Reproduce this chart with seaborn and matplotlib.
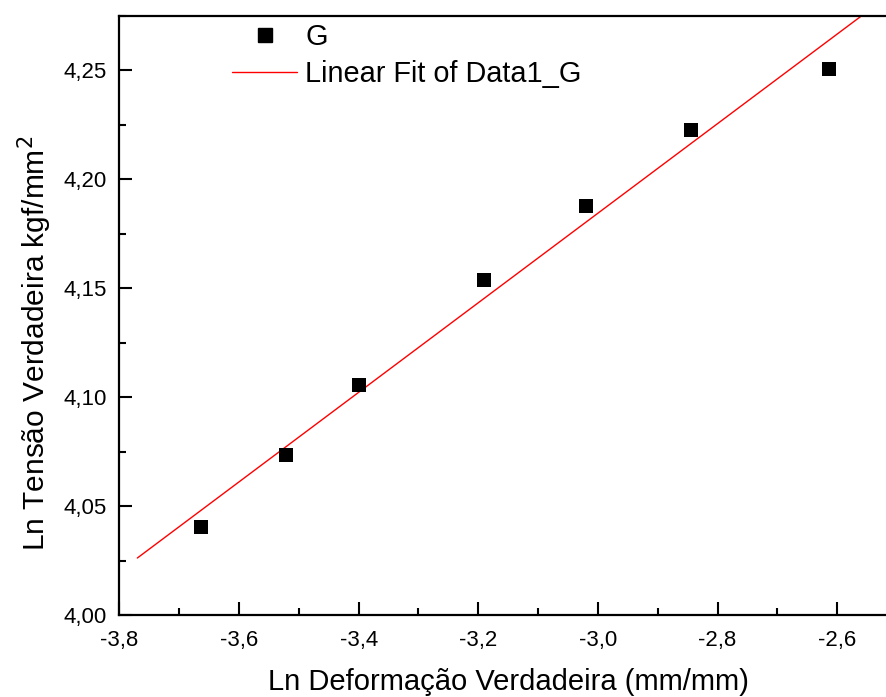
import numpy as np
import pandas as pd
import matplotlib
matplotlib.use("Agg")
import matplotlib.pyplot as plt
import seaborn as sns
from matplotlib.lines import Line2D
from matplotlib.ticker import MultipleLocator, FuncFormatter

# podaci ocitani sa slike
ln_deformacao = [-3.664, -3.521, -3.399, -3.190, -3.020, -2.844, -2.614]
ln_tensao = [4.0404, 4.0734, 4.1055, 4.1537, 4.1876, 4.2229, 4.2505]
fit_x_range = [-3.77, -2.55]

sns.set_style("ticks")
plt.rcParams['font.family'] = ['Liberation Sans', 'DejaVu Sans']
plt.rcParams['xtick.direction'] = 'in'
plt.rcParams['ytick.direction'] = 'in'
for k in ['text.color', 'axes.labelcolor', 'xtick.color', 'ytick.color', 'axes.edgecolor']:
    plt.rcParams[k] = 'black'

df = pd.DataFrame({'x': ln_deformacao, 'y': ln_tensao})

# linearni fit
slope, intercept = np.polyfit(df['x'], df['y'], 1)
fit_df = pd.DataFrame({'x': fit_x_range})
fit_df['y'] = intercept + slope * fit_df['x']

fig = plt.figure(figsize=(8.87, 6.97), dpi=100)
ax = fig.add_axes([0.1346, 0.1176, 0.8767, 0.8594])

sns.lineplot(data=fit_df, x='x', y='y', ax=ax, color='red', linewidth=1.0)
sns.scatterplot(data=df, x='x', y='y', ax=ax, marker='s', s=95, color='black',
                edgecolor='black', linewidth=0, zorder=3)

ax.set_xlim(-3.8, -2.5)
ax.set_ylim(4.0, 4.275)
ax.xaxis.set_major_locator(MultipleLocator(0.2))
ax.xaxis.set_minor_locator(MultipleLocator(0.1))
ax.yaxis.set_major_locator(MultipleLocator(0.05))
ax.yaxis.set_minor_locator(MultipleLocator(0.025))
ax.xaxis.set_major_formatter(FuncFormatter(lambda v, p: f"{v:.1f}".replace('.', ',')))
ax.yaxis.set_major_formatter(FuncFormatter(lambda v, p: f"{v:.2f}".replace('.', ',')))

ax.tick_params(which='major', length=9.5, width=1.5, labelsize=16,
               top=False, right=False)
ax.tick_params(axis='x', which='major', pad=11)
ax.tick_params(axis='y', which='major', pad=9)
ax.tick_params(which='minor', length=5, width=1.5, top=False, right=False)
for s in ax.spines.values():
    s.set_linewidth(1.6)

ax.set_xlabel('Ln Deformação Verdadeira (mm/mm)', fontsize=21)
ax.set_ylabel('Ln Tensão Verdadeira kgf/mm$^2$', fontsize=21.5)
ax.xaxis.set_label_coords(0.5, -0.089)
ax.yaxis.set_label_coords(-0.084, 0.453)

handles = [
    Line2D([], [], marker='s', linestyle='none', color='black', markersize=9.5),
    Line2D([], [], color='red', linewidth=1.0),
]
ax.legend(handles, ['G', 'Linear Fit of Data1_G'], frameon=False, fontsize=20.8,
          loc='upper left', bbox_to_anchor=(232 / 887, 1 - 23 / 697),
          bbox_transform=fig.transFigure, handlelength=2.25, handletextpad=0.28,
          labelspacing=0.32, borderpad=0, borderaxespad=0)

fig.savefig('out.png', dpi=100)
